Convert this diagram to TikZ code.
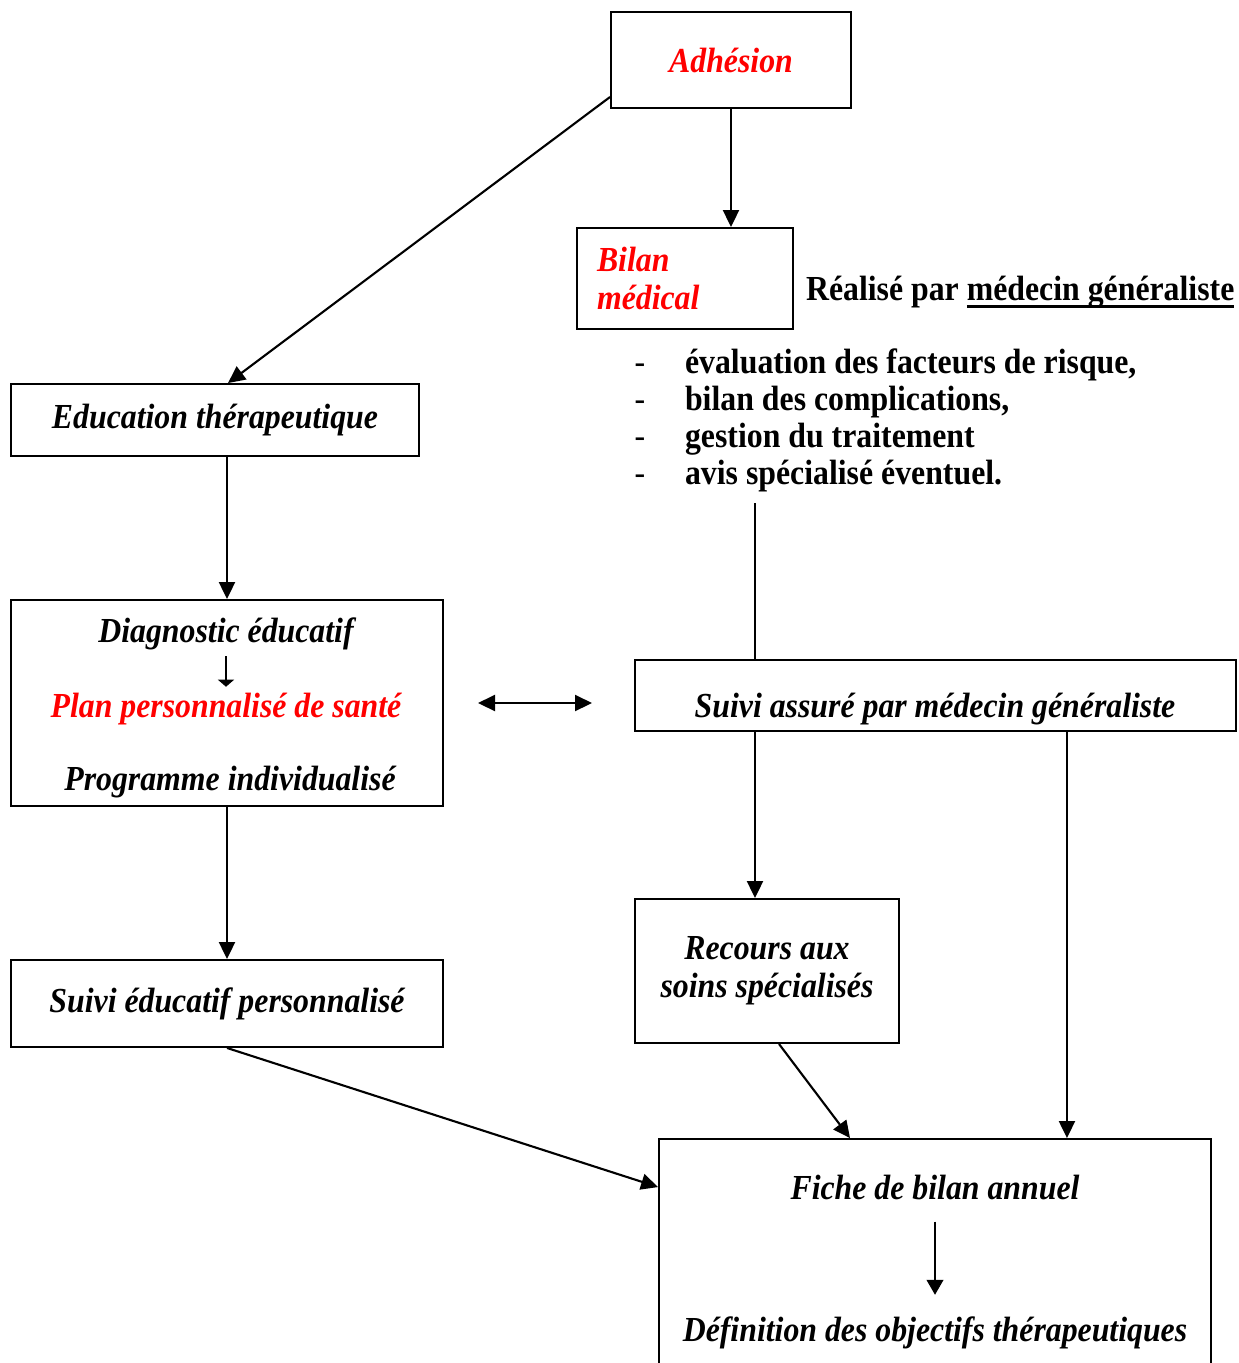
\documentclass[tikz,border=0pt]{standalone}
\usepackage{fontspec}
\setmainfont{Liberation Serif}[FakeStretch=0.905]
\usetikzlibrary{arrows.meta}
\newcommand{\ulthick}[1]{\setbox0\hbox{#1}\rlap{\rule[-4.5pt]{\wd0}{1.5pt}}\box0}

\begin{document}
\begin{tikzpicture}[x=0.02cm,y=-0.02cm,line width=1.2pt,>={Triangle[length=0.34cm,width=0.32cm]},
    box/.style={draw,line width=1.1pt,inner sep=0pt,font=\fontsize{20}{21.5}\selectfont\bfseries\itshape},
    txt/.style={font=\fontsize{20}{21.5}\selectfont\bfseries\itshape,inner sep=2pt},
    item/.style={font=\fontsize{20}{21}\selectfont\bfseries,inner sep=0pt},
    thin/.style={line width=0.6pt,-{Triangle[length=0.3cm,width=0.34cm]}}]
    \useasboundingbox (0,0) rectangle (1239,1363);
    \node[box,minimum width=4.8cm,minimum height=1.92cm,text=red] (adh) at (731,60) {Adhésion};
    \node[box,minimum width=4.32cm,minimum height=2.02cm,text width=3.52cm,align=left,text=red] (bilan) at (685,278.5) {Bilan\\médical};
    \node[item,anchor=base west] (real) at (805,300) {Réalisé par \ulthick{médecin généraliste}};
    \foreach \txt [count=\i] in {{évaluation des facteurs de risque,},{bilan des complications,},{gestion du traitement},{avis spécialisé éventuel.}} {
        \node[item,font=\fontsize{20}{21}\selectfont,anchor=base] (dash\i) at (640,336+37*\i) {-};
        \node[item,anchor=base west] (it\i) at (684,336+37*\i) {\txt};
    }
    \coordinate (lend) at (755,503);
    \node[box,minimum width=12.02cm,minimum height=1.42cm] (suivi) at (935.5,695.5) {};
    \node[txt] (suiviT) at (935,709) {Suivi assuré par médecin généraliste};
    \node[box,minimum width=5.28cm,minimum height=2.88cm,align=center] (rec) at (767,971) {Recours aux\\soins spécialisés};
    \node[box,minimum width=11.04cm,minimum height=5.22cm] (fiche) at (935,1269.5) {};
    \node[txt] (ficheT) at (935,1187) {Fiche de bilan annuel};
    \node[txt] (defT) at (935,1333) {Définition des objectifs thérapeutiques};
    \node[box,minimum width=8.16cm,minimum height=1.44cm] (educ) at (215,420) {Education thérapeutique};
    \node[box,minimum width=8.64cm,minimum height=4.12cm] (diag) at (227,703) {};
    \node[txt] (diagT) at (226,634) {Diagnostic éducatif};
    \node[txt,text=red] (plan) at (226,709) {Plan personnalisé de santé};
    \node[txt] (prog) at (230,782) {Programme individualisé};
    \node[box,minimum width=8.64cm,minimum height=1.74cm] (sed) at (227,1003.5) {Suivi éducatif personnalisé};
    \coordinate (dl) at (478,703);
    \coordinate (dr) at (592,703);
    \draw[->] (adh.south) -- (adh.south |- bilan.north);
    \draw[->] ([yshift=0.24cm]adh.south west) -- ([xshift=0.26cm]educ.north);
    \draw[->] (diag.north |- educ.south) -- (diag.north);
    \draw[->] (diag.south) -- (sed.north);
    \draw[->] (sed.south) -- ([yshift=-0.98cm]fiche.north west);
    \draw (lend) -- (lend |- suivi.north);
    \draw[->] (lend |- suivi.south) -- (lend |- rec.north);
    \draw[->] ([xshift=2.63cm]suivi.south) -- ([xshift=2.63cm]suivi.south |- fiche.north);
    \draw[->] ([xshift=0.24cm]rec.south) -- ([xshift=-1.7cm]fiche.north);
    \draw[<->] (dl) -- (dr);
    \draw[thin,-{Triangle[length=0.14cm,width=0.32cm]},shorten <=1pt,shorten >=1pt] (diagT) -- (plan);
    \draw[thin,shorten <=10pt,shorten >=10pt] (ficheT) -- (defT);
\end{tikzpicture}
\end{document}
